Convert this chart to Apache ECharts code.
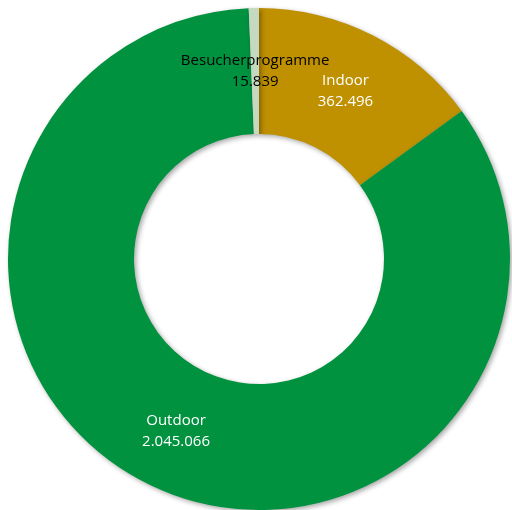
<!DOCTYPE html>
<html>
<head>
<meta charset="utf-8">
<script src="https://cdn.jsdelivr.net/npm/echarts@6/dist/echarts.min.js"></script>
<style>html,body{margin:0;padding:0;background:#fff}#c{width:512px;height:510px}</style>
</head>
<body>
<div id="c"></div>
<script>
const categories = ['Indoor', 'Outdoor', 'Besucherprogramme'];
const values = [362496, 2045066, 15839];
const valueLabels = ['362.496', '2.045.066', '15.839'];
const colors = ['#BF9000', '#00923F', '#C5D9C1'];
const labelColors = ['#ffffff', '#ffffff', '#000000'];

const labelFont = {fontFamily: 'Open Sans', fontSize: 15, lineHeight: 21};

const chart = echarts.init(document.getElementById('c'), null, {renderer: 'canvas'});
chart.setOption({
  animation: false,
  backgroundColor: '#ffffff',
  series: [{
    type: 'pie',
    center: [259, 259],
    radius: [125, 251],
    startAngle: 90,
    clockwise: true,
    avoidLabelOverlap: false,
    labelLayout: {hideOverlap: false},
    itemStyle: {
      borderWidth: 0,
      shadowBlur: 5,
      shadowOffsetX: 2,
      shadowOffsetY: 2,
      shadowColor: 'rgba(0,0,0,0.35)'
    },
    label: Object.assign({
      show: true,
      position: 'inside',
      align: 'center',
      formatter: function (p) { return p.name + '\n' + valueLabels[p.dataIndex]; }
    }, labelFont),
    labelLine: {show: false},
    emphasis: {disabled: true},
    data: categories.map(function (c, i) {
      return {
        name: c,
        value: values[i],
        itemStyle: {color: colors[i]},
        label: {color: labelColors[i], show: i !== 2, offset: i === 0 ? [0, 3] : [0, 0]}
      };
    })
  }]
});

// The thin slice's inside label is suppressed by ECharts; place it at the
// same spot ECharts would use (mid-angle, mid-radius of the sector's layout).
const data = chart.getModel().getSeriesByIndex(0).getData();
const idx = 2;
const lay = data.getItemLayout(idx);
const mid = (lay.startAngle + lay.endAngle) / 2;
const rm = (lay.r + lay.r0) / 2;
chart.setOption({
  graphic: [{
    type: 'text',
    x: lay.cx + rm * Math.cos(mid),
    y: lay.cy + rm * Math.sin(mid),
    z: 100,
    style: Object.assign({
      text: categories[idx] + '\n' + valueLabels[idx],
      fill: labelColors[idx],
      align: 'center',
      verticalAlign: 'middle'
    }, labelFont)
  }]
});
</script>
</body>
</html>
